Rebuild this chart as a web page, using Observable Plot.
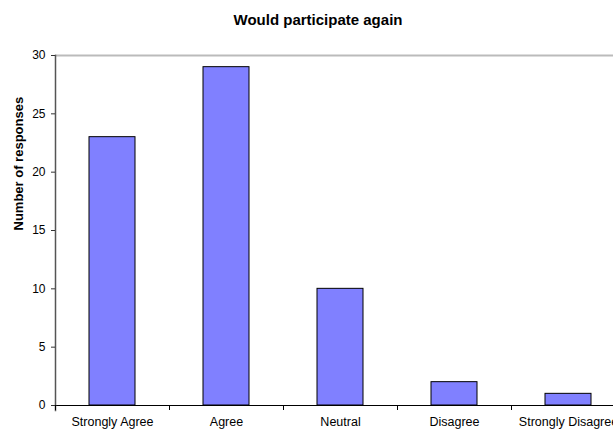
<!DOCTYPE html>
<html>
<head>
<meta charset="utf-8">
<script src="https://cdn.jsdelivr.net/npm/d3@7"></script>
<script src="https://cdn.jsdelivr.net/npm/@observablehq/plot@0.6"></script>
<style>
  html, body { margin: 0; padding: 0; background: #fff; overflow: hidden; }
  #chart svg { overflow: visible; }
</style>
</head>
<body>
<div id="chart"></div>
<script>
const title = "Would participate again";
const yLabel = "Number of responses";
const categories = ["Strongly Agree", "Agree", "Neutral", "Disagree", "Strongly Disagree"];
const responses = [23, 29, 10, 2, 1];
const yTicks = [0, 5, 10, 15, 20, 25, 30];

const data = categories.map((c, i) => ({category: c, value: responses[i]}));
const font = "'Liberation Sans', Arial, sans-serif";

const chart = Plot.plot({
  width: 613,
  height: 430,
  marginTop: 55,
  marginBottom: 25,
  marginLeft: 55,
  marginRight: -12,
  style: {fontFamily: font, fontSize: "12px", color: "#000", background: "#fff"},
  x: {type: "band", domain: categories, paddingInner: 0.6, paddingOuter: 0.3},
  y: {domain: [0, 30]},
  marks: [
    Plot.ruleY([30], {stroke: "#bbbbbb", strokeWidth: 2}),
    Plot.barY(data, {x: "category", y: "value", fill: "#8080FF", stroke: "#000", strokeWidth: 1}),
    Plot.ruleY([0], {stroke: "#000", strokeWidth: 1.2}),
    Plot.frame({anchor: "left", stroke: "#555", strokeWidth: 1.5, insetBottom: -5}),
    Plot.ruleX(categories, {x: d => d, y1: 0, y2: 0, insetBottom: -5, dx: -57, stroke: "#000"}),
    Plot.axisY({ticks: yTicks, tickSize: 4, tickPadding: 6, label: null, stroke: "#333", fontSize: 12}),
    Plot.axisX({tickSize: 0, tickPadding: 12, label: null, fontSize: 12.5}),
    Plot.text([yLabel], {frameAnchor: "left", rotate: -90, dx: -37, fontWeight: "bold", fontSize: 13}),
    Plot.text([title], {frameAnchor: "top", lineAnchor: "middle", dx: -22.5, dy: -35, fontWeight: "bold", fontSize: 15})
  ]
});
document.getElementById("chart").appendChild(chart);
</script>
</body>
</html>
